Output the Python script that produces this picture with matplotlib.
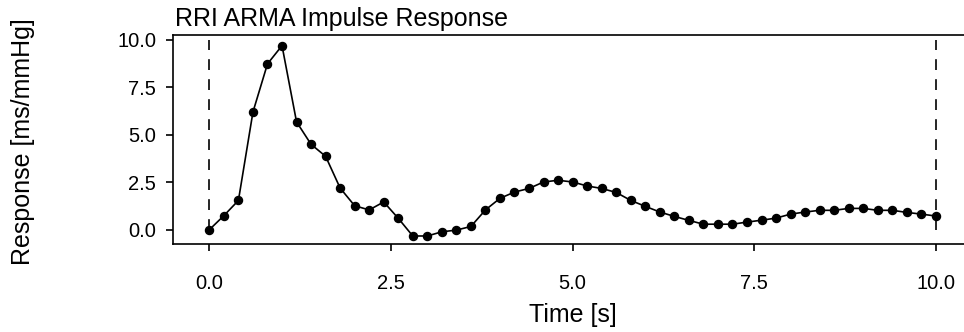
import matplotlib
matplotlib.use("Agg")
import matplotlib.pyplot as plt
import numpy as np

plt.rcParams['font.family'] = ['Liberation Sans', 'DejaVu Sans']

# impulse response sampled every 0.2 s
dt = 0.2
response = [
    0.00, 0.74, 1.54, 6.19, 8.72, 9.68, 5.67, 4.49, 3.86, 2.19,
    1.26, 1.04, 1.46, 0.60, -0.33, -0.33, -0.11, -0.02, 0.17, 1.04,
    1.65, 1.98, 2.17, 2.51, 2.60, 2.51, 2.30, 2.17, 1.96, 1.54,
    1.23, 0.93, 0.70, 0.49, 0.29, 0.29, 0.29, 0.40, 0.50, 0.61,
    0.82, 0.93, 1.02, 1.02, 1.12, 1.12, 1.02, 1.02, 0.91, 0.82,
    0.72,
]
t = np.arange(len(response)) * dt
x_ticks = [0.0, 2.5, 5.0, 7.5, 10.0]
y_ticks = [0.0, 2.5, 5.0, 7.5, 10.0]
window = [0.0, 10.0]

fig = plt.figure(figsize=(9.64, 3.32), dpi=100)
ax = fig.add_axes([0.1795, 0.264, 0.829, 0.6306])

for xv in window:
    ax.vlines(xv, 0, 10, colors='black', linestyles=(0, (6.5, 5.5)), linewidth=1.2)
ax.plot(t, response, color='black', linewidth=1.2, marker='o', markersize=5.8)

ax.set_xlim(-0.5, 10.5)
ax.set_ylim(-0.77, 10.24)
ax.set_xticks(x_ticks)
ax.set_yticks(y_ticks)
ax.set_xticklabels(["%.1f" % v for v in x_ticks])
ax.set_yticklabels(["%.1f" % v for v in y_ticks])
ax.tick_params(axis='x', length=5, width=1.2, pad=16, labelsize=14.5)
ax.tick_params(axis='y', length=5, width=1.2, pad=7, labelsize=14.5)
for s in ax.spines.values():
    s.set_linewidth(1.2)

ax.set_title("RRI ARMA Impulse Response", loc='left', fontsize=18, pad=6.5, x=0.003)
ax.set_xlabel("Time [s]", fontsize=18, labelpad=7.5)
fig.text(23 / 964, 1 - 142 / 332, "Response [ms/mmHg]", rotation=90,
         ha='center', va='center', fontsize=18)

fig.savefig("out.png", dpi=100)
